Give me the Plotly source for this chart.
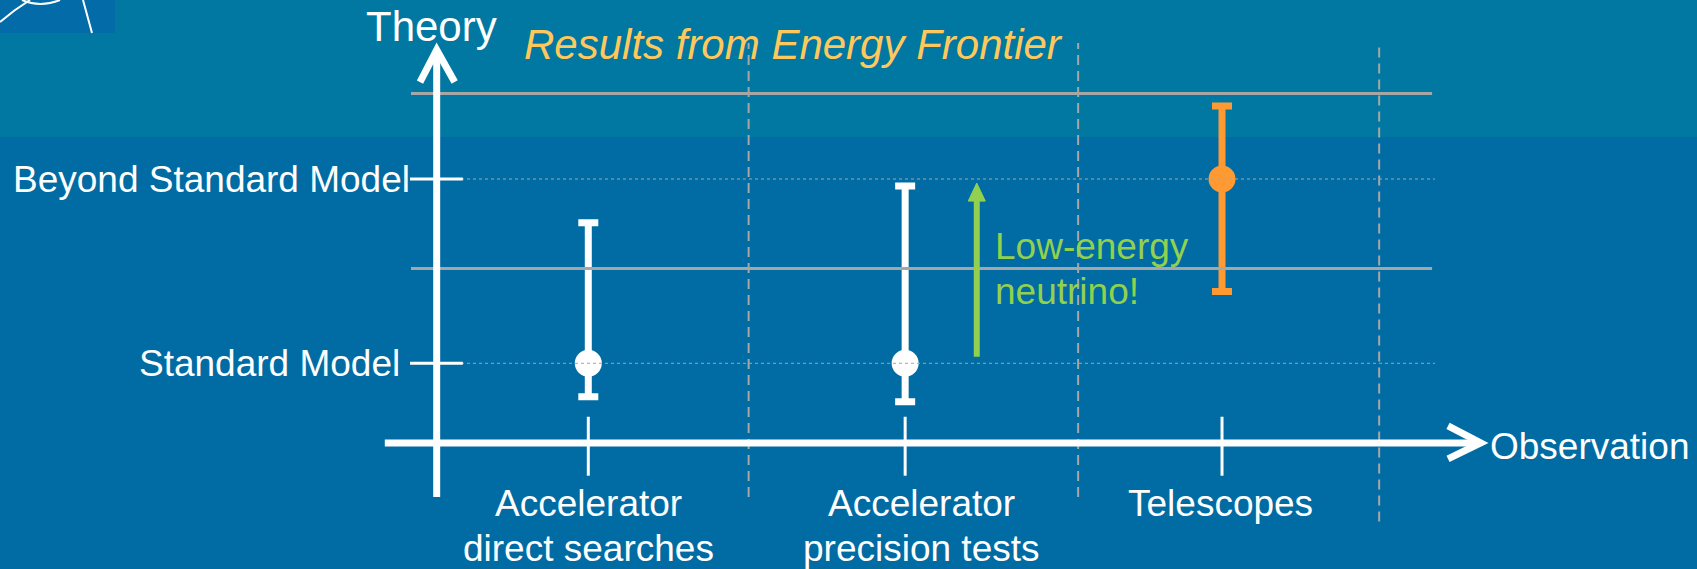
import plotly.graph_objects as go

# ---------------- data ----------------
categories = [["Accelerator", "direct searches"], ["Accelerator", "precision tests"], ["Telescopes"]]
cat_pos = [0, 1, 2]                 # position of each observation type on the x axis
label_pos = [0, 1.05, 1.995]        # where category labels are centred
level_names = ["Standard Model", "Beyond Standard Model"]
level_vals = [0, 1]

white_x = [0, 1]
white_y = [0, 0]
white_hi = [0.763, 0.962]
white_lo = [-0.181, -0.208]

orange_x = [2]
orange_y = [1]
orange_hi = [1.396]
orange_lo = [0.390]

band_edges = [0.515, 1.464]         # solid gray horizontal lines
separators = [0.506, 1.546, 2.496]  # dashed vertical separators
neutrino_arrow = (1.226, 0.036, 0.978)  # x, from y, to y

# ---------------- style ----------------
BG_TOP = "#0078a2"
BG_BOT = "#006ca3"
WHITE = "#ffffff"
ORANGE = "#ff9a33"
GREEN = "#92d050"
TITLE = "#ffc85c"
GRAY = "#a6a6a6"
FONT = "Liberation Sans, Arial, sans-serif"

XR = [-1.8567, 3.4991]
YR = [-1.1161, 1.9712]

fig = go.Figure()

shapes = []
# background top band
shapes.append(dict(type="rect", xref="paper", yref="paper", x0=0, x1=1, y0=1-137/569, y1=1,
                   fillcolor=BG_TOP, line_width=0, layer="below"))
# logo corner
shapes.append(dict(type="rect", xref="paper", yref="paper", x0=0, x1=115/1697, y0=1-33/569, y1=1,
                   fillcolor="#036ca8", line_width=0, layer="below"))
shapes.append(dict(type="path", xref="paper", yref="paper",
                   path=f"M 0 {1-22/569} Q {14/1697} {1-10/569} {30/1697} 1",
                   line=dict(color=WHITE, width=2)))
shapes.append(dict(type="path", xref="paper", yref="paper",
                   path=f"M {22/1697} 1 Q {40/1697} {1-8/569} {60/1697} 1",
                   line=dict(color=WHITE, width=2)))
shapes.append(dict(type="line", xref="paper", yref="paper", x0=83/1697, y0=1, x1=92/1697, y1=1-33/569,
                   line=dict(color=WHITE, width=2)))

# solid gray band lines
for yv in band_edges:
    shapes.append(dict(type="line", x0=-0.5596, x1=2.663, y0=yv, y1=yv,
                       line=dict(color=GRAY, width=3)))
# dotted level lines
for yv in level_vals:
    shapes.append(dict(type="line", x0=-0.4207, x1=2.672, y0=yv, y1=yv,
                       line=dict(color=GRAY, width=1, dash="3px,3px")))
# dashed separators
sep_ext = [(1.738, -0.7255), (1.738, -0.7255), (1.723, -0.859)]
for xv, (yt, yb) in zip(separators, sep_ext):
    shapes.append(dict(type="line", x0=xv, x1=xv, y0=yb, y1=yt,
                       line=dict(color=GRAY, width=2, dash="10px,6px")))

# Y (theory) axis with chevron head
shapes.append(dict(type="line", x0=-0.4785, x1=-0.4785, y0=-0.7255, y1=1.69,
                   line=dict(color=WHITE, width=7)))
shapes.append(dict(type="path", path="M -0.5312 1.526 L -0.4785 1.70 L -0.4217 1.526",
                   line=dict(color=WHITE, width=7)))
# Y ticks
for yv in level_vals:
    shapes.append(dict(type="line", x0=-0.5627, x1=-0.396, y0=yv, y1=yv,
                       line=dict(color=WHITE, width=3)))
# X (observation) axis with chevron head
shapes.append(dict(type="line", x0=-0.6423, x1=2.80, y0=-0.432, y1=-0.432,
                   line=dict(color=WHITE, width=7)))
shapes.append(dict(type="path", path="M 2.7133 -0.3395 L 2.8165 -0.432 L 2.7133 -0.5185",
                   line=dict(color=WHITE, width=7)))
# X ticks
for xv in cat_pos:
    shapes.append(dict(type="line", x0=xv, x1=xv, y0=-0.29, y1=-0.61,
                       line=dict(color=WHITE, width=3)))

# green neutrino arrow shaft
ax, ay0, ay1 = neutrino_arrow
shapes.append(dict(type="line", x0=ax, x1=ax, y0=ay0, y1=ay1 - 0.09,
                   line=dict(color=GREEN, width=6)))
shapes.append(dict(type="path",
                   path=f"M {ax-0.027} {ay1-0.098} L {ax} {ay1} L {ax+0.027} {ay1-0.098} Z",
                   fillcolor=GREEN, line=dict(color=GREEN, width=1)))

# ---------------- traces ----------------
fig.add_trace(go.Scatter(
    x=white_x, y=white_y, mode="markers",
    marker=dict(color=WHITE, size=27),
    error_y=dict(type="data", symmetric=False,
                 array=[h - y for h, y in zip(white_hi, white_y)],
                 arrayminus=[y - l for l, y in zip(white_lo, white_y)],
                 color=WHITE, thickness=7, width=10),
    showlegend=False, hoverinfo="skip"))
fig.add_trace(go.Scatter(
    x=orange_x, y=orange_y, mode="markers",
    marker=dict(color=ORANGE, size=27),
    error_y=dict(type="data", symmetric=False,
                 array=[h - y for h, y in zip(orange_hi, orange_y)],
                 arrayminus=[y - l for l, y in zip(orange_lo, orange_y)],
                 color=ORANGE, thickness=7, width=10),
    showlegend=False, hoverinfo="skip"))

# ---------------- text ----------------
ann = []
ann.append(dict(x=-0.494, y=1.826, text="Theory", showarrow=False,
                font=dict(family=FONT, size=42, color=WHITE), xanchor="center", yanchor="middle"))
ann.append(dict(x=-0.210, y=1.731, text="<i>Results from Energy Frontier</i>", showarrow=False,
                font=dict(family=FONT, size=42, color=TITLE), xanchor="left", yanchor="middle"))
ann.append(dict(x=-0.5564, y=level_vals[1], text=level_names[1], showarrow=False,
                font=dict(family=FONT, size=37, color=WHITE), xanchor="right", yanchor="middle"))
ann.append(dict(x=-0.589, y=level_vals[0], text=level_names[0], showarrow=False,
                font=dict(family=FONT, size=37, color=WHITE), xanchor="right", yanchor="middle"))
ann.append(dict(x=2.8396, y=-0.449, text="Observation", showarrow=False,
                font=dict(family=FONT, size=37, color=WHITE), xanchor="left", yanchor="middle"))
line_y = [-0.762, -1.005]
for lines, xv in zip(categories, label_pos):
    for ln, yv in zip(lines, line_y):
        ann.append(dict(x=xv, y=yv, text=ln, showarrow=False,
                        font=dict(family=FONT, size=37, color=WHITE),
                        xanchor="center", yanchor="middle"))
ann.append(dict(x=1.277, y=0.635, text="Low-energy", showarrow=False,
                font=dict(family=FONT, size=37, color=GREEN), xanchor="left", yanchor="middle"))
ann.append(dict(x=1.277, y=0.39, text="neutrino!", showarrow=False,
                font=dict(family=FONT, size=37, color=GREEN), xanchor="left", yanchor="middle"))

fig.update_layout(
    width=1697, height=569,
    margin=dict(l=0, r=0, t=0, b=0),
    paper_bgcolor=BG_BOT, plot_bgcolor="rgba(0,0,0,0)",
    xaxis=dict(range=XR, visible=False, fixedrange=True),
    yaxis=dict(range=YR, visible=False, fixedrange=True),
    shapes=shapes, annotations=ann, showlegend=False,
)

fig.write_html("out.html", config={"displayModeBar": False},
               post_script="document.body.style.margin='0';document.body.style.overflow='hidden';")
